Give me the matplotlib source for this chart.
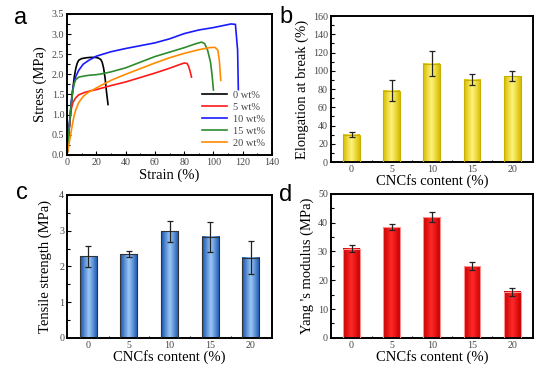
import numpy as np
import matplotlib
matplotlib.use('Agg')
import matplotlib.pyplot as plt
from matplotlib.colors import LinearSegmentedColormap
from matplotlib.ticker import MultipleLocator, FormatStrFormatter

# ---- data ----
# panel a: stress-strain curves (strain %, stress MPa)
strain_0 = [0, 1, 2, 3, 4, 5, 6, 7, 8, 10, 13, 16, 19, 21, 23, 24, 25, 26, 27, 28]
stress_0 = [0, 0.45, 0.9, 1.3, 1.65, 1.95, 2.15, 2.28, 2.35, 2.39, 2.41, 2.42, 2.42, 2.41, 2.37, 2.3, 2.15, 1.9, 1.55, 1.25]
strain_5 = [0, 1, 2, 3, 4, 6, 8, 12, 16, 20, 30, 40, 50, 60, 70, 76, 80, 82, 83, 84, 85]
stress_5 = [0, 0.45, 0.85, 1.15, 1.3, 1.42, 1.49, 1.55, 1.59, 1.62, 1.72, 1.81, 1.92, 2.03, 2.15, 2.23, 2.28, 2.27, 2.2, 2.08, 1.93]
strain_10 = [0, 1, 2, 3, 4, 6, 8, 11, 15, 20, 30, 40, 50, 60, 70, 80, 90, 100, 108, 112, 115, 116.5, 117]
stress_10 = [0, 0.5, 0.95, 1.35, 1.65, 1.95, 2.1, 2.25, 2.35, 2.45, 2.56, 2.64, 2.71, 2.78, 2.88, 3.01, 3.1, 3.16, 3.22, 3.25, 3.24, 2.6, 1.62]
strain_15 = [0, 1, 2, 3, 4, 5, 6, 8, 12, 16, 20, 25, 30, 40, 50, 60, 70, 80, 88, 92, 94, 96, 98, 99, 100]
stress_15 = [0, 0.45, 0.9, 1.3, 1.6, 1.78, 1.87, 1.93, 1.96, 1.98, 1.99, 2.02, 2.06, 2.16, 2.3, 2.44, 2.55, 2.66, 2.76, 2.8, 2.76, 2.6, 2.3, 2.0, 1.61]
strain_20 = [0, 1, 2, 3, 4, 5, 6, 8, 11, 14, 18, 22, 30, 40, 50, 60, 70, 80, 90, 97, 101, 103, 104, 105]
stress_20 = [0, 0.2, 0.4, 0.62, 0.82, 1.0, 1.12, 1.3, 1.45, 1.54, 1.62, 1.7, 1.85, 2.0, 2.14, 2.28, 2.41, 2.52, 2.61, 2.66, 2.67, 2.6, 2.35, 1.85]
curve_labels = ['0 wt%', '5 wt%', '10 wt%', '15 wt%', '20 wt%']
curve_colors = ['black', '#ff1a1a', '#1a1aff', '#2e8b2e', '#ff8c00']

# panels b-d: bar charts
content = ['0', '5', '10', '15', '20']
elongation = [30, 78, 108, 90, 94]
elongation_err = [3, 11.5, 13.5, 6, 5.5]
tensile = [2.28, 2.34, 2.98, 2.83, 2.25]
tensile_err = [0.3, 0.08, 0.29, 0.42, 0.45]
modulus = [31, 38.5, 42, 25, 16]
modulus_err = [1.3, 1.1, 1.6, 1.3, 1.3]

plt.rcParams['font.family'] = ['Liberation Serif', 'DejaVu Serif']

fig = plt.figure(figsize=(5.54, 3.75), dpi=100)
ax_a = fig.add_axes([0.121, 0.587, 0.370, 0.376])
ax_b = fig.add_axes([0.597, 0.568, 0.365, 0.389])
ax_c = fig.add_axes([0.121, 0.099, 0.370, 0.381])
ax_d = fig.add_axes([0.597, 0.099, 0.365, 0.384])

tick_col = '#444444'


def style(ax):
    for s in ax.spines.values():
        s.set_linewidth(1.4)
    ax.tick_params(which='both', direction='in', colors='black', labelcolor=tick_col,
                   labelsize=7.2, width=0.8, pad=2)
    ax.tick_params(which='major', length=3)
    ax.tick_params(which='minor', length=1.8)


# ---- a ----
curves = [(strain_0, stress_0), (strain_5, stress_5), (strain_10, stress_10),
          (strain_15, stress_15), (strain_20, stress_20)]
for (sx, sy), lab, col in zip(curves, curve_labels, curve_colors):
    ax_a.plot(sx, sy, color=col, lw=1.2, label=lab)
ax_a.set_xlim(0, 140)
ax_a.set_ylim(0, 3.5)
ax_a.xaxis.set_major_locator(MultipleLocator(20))
ax_a.xaxis.set_minor_locator(MultipleLocator(10))
ax_a.yaxis.set_major_locator(MultipleLocator(0.5))
ax_a.yaxis.set_minor_locator(MultipleLocator(0.25))
ax_a.yaxis.set_major_formatter(FormatStrFormatter('%.1f'))
ax_a.set_xlabel('Strain (%)', fontsize=10.5, labelpad=1)
ax_a.set_ylabel('Stress (MPa)', fontsize=10.5, labelpad=3)
style(ax_a)
ax_a.legend(loc='lower right', frameon=False, fontsize=7.5, handlelength=2.4,
            labelspacing=0.25, handletextpad=0.5, borderaxespad=0.3,
            labelcolor=tick_col)


# ---- bars with horizontal gradient ----
def grad_bars(ax, vals, errs, dark, light, edge):
    x = np.arange(len(vals))
    bars = ax.bar(x, vals, width=0.42, color='none', edgecolor=edge, linewidth=0.8, zorder=3)
    cmap = LinearSegmentedColormap.from_list('g', [dark, light, dark])
    g = np.linspace(0, 1, 64).reshape(1, -1)
    for b in bars:
        ax.imshow(g, cmap=cmap, aspect='auto', zorder=2,
                  extent=[b.get_x(), b.get_x() + b.get_width(), 0, b.get_height()])
    ax.errorbar(x, vals, yerr=errs, fmt='none', ecolor='#222222', elinewidth=0.9,
                capsize=2, capthick=0.9, zorder=4)
    ax.set_xticks(x)
    ax.set_xticklabels(content)
    ax.set_xticks(x[:-1] + 0.5, minor=True)
    ax.set_xlim(-0.52, len(vals) - 0.48)


grad_bars(ax_b, elongation, elongation_err, '#d6bc00', '#fff47a', '#c9b000')
ax_b.set_ylim(0, 160)
ax_b.yaxis.set_major_locator(MultipleLocator(20))
ax_b.yaxis.set_minor_locator(MultipleLocator(10))
ax_b.set_xlabel('CNCfs content (%)', fontsize=10.5, labelpad=0)
ax_b.set_ylabel('Elongation at break (%)', fontsize=10.5, labelpad=3)
style(ax_b)

grad_bars(ax_c, tensile, tensile_err, '#1553b0', '#9cc8f5', '#333333')
ax_c.set_ylim(0, 4)
ax_c.yaxis.set_major_locator(MultipleLocator(1))
ax_c.yaxis.set_minor_locator(MultipleLocator(0.5))
ax_c.set_xlabel('CNCfs content (%)', fontsize=10.5, labelpad=0)
ax_c.set_ylabel('Tensile strength (MPa)', fontsize=10.5, labelpad=5)
style(ax_c)

grad_bars(ax_d, modulus, modulus_err, '#c80000', '#ff2a2a', '#ff9090')
ax_d.set_ylim(0, 50)
ax_d.yaxis.set_major_locator(MultipleLocator(10))
ax_d.yaxis.set_minor_locator(MultipleLocator(5))
ax_d.set_xlabel('CNCfs content (%)', fontsize=10.5, labelpad=0)
ax_d.set_ylabel("Yang 's modulus (MPa)", fontsize=10.5, labelpad=3)
style(ax_d)

# panel letters
for lab, (px, py) in zip('abcd', [(21, 18), (286, 17), (22, 193), (286, 195)]):
    fig.text(px / 554, 1 - py / 375, lab, fontsize=17, family='Liberation Sans',
             ha='center', va='center')

fig.savefig('out.png', dpi=100)
